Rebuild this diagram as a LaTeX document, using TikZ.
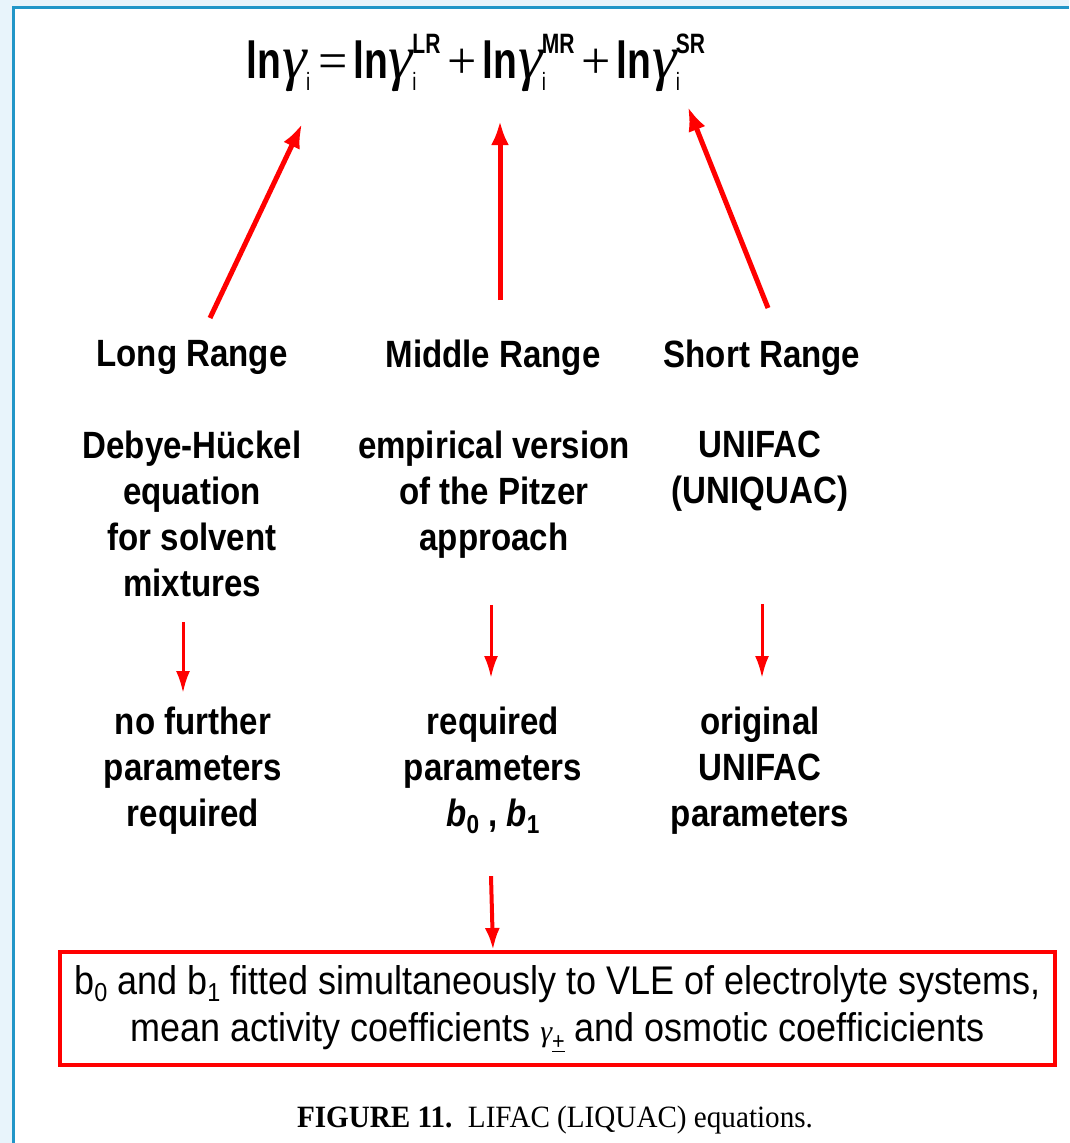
\documentclass[tikz,border=0pt]{standalone}
\usepackage{fontspec}
\setmainfont{Liberation Sans}
\newfontfamily\labfont{Liberation Sans}[FakeStretch=0.87]
\newfontfamily\boxfont{Liberation Sans}[FakeStretch=0.9]
\newfontfamily\eqfont{Liberation Sans}[FakeStretch=0.75]
\newfontfamily\grfont{Liberation Serif}
\newfontfamily\capfont{Liberation Serif}[FakeStretch=0.94]
\usetikzlibrary{arrows.meta,positioning}
\definecolor{framebl}{RGB}{33,150,200}
\definecolor{pagebl}{RGB}{232,244,251}
% one term ln gamma_i^{#1}
\newcommand{\lng}[1]{{\eqfont\bfseries ln}\kern1pt{\grfont\itshape\fontsize{62}{62}\selectfont γ}\kern-1pt%
  \rlap{\raisebox{-12pt}{\eqfont\fontsize{25}{25}\selectfont i}}%
  \raisebox{25pt}{\eqfont\bfseries\fontsize{28}{28}\selectfont #1}}
\newcommand{\bsub}[1]{{\itshape b}\raisebox{-7pt}{\fontsize{26}{26}\selectfont\upshape #1}}

\begin{document}
\begin{tikzpicture}[x=1pt,y=-1pt,
  lab/.style={font=\labfont\bfseries\fontsize{38}{46}\selectfont, align=center, inner sep=0pt},
  bigarr/.style={red, line width=5pt, -{Latex[length=24pt,width=18pt]}},
  smallarr/.style={red, line width=3pt, -{Latex[length=22pt,width=14pt]}}]
\useasboundingbox (0,0) rectangle (1069,1143);
% frame of the page
\fill[pagebl] (0,0) rectangle (1069,1143);
\fill[white] (14,9) rectangle (1069,1143);
\draw[framebl, line width=3pt] (13,1143)--(13,7)--(1069,7);
% the equation
\node[inner sep=0pt, anchor=base, font=\fontsize{52}{60}\selectfont] (eq) at (476,78)
  {\lng{}\hspace{12pt}{\grfont =}\hspace{6pt}\lng{LR}\hspace{7pt}{\grfont +}\hspace{6pt}\lng{MR}\hspace{7pt}{\grfont +}\hspace{6pt}\lng{SR}};
\coordinate (lrtip) at (302,124);
\coordinate (mrtip) at (500,121);
\coordinate (srtip) at (688,107);
% ranges
\node[lab, anchor=north] (lr) at (192,340) {Long Range};
\node[lab, anchor=north] (mr) at (493,340) {Middle Range};
\node[lab, anchor=north] (sr) at (762,340) {Short Range};
\draw[bigarr] ([xshift=18pt,yshift=22pt]lr.north) -- (lrtip);
\draw[bigarr] ([xshift=7pt,yshift=40pt]mr.north) -- (mrtip);
\draw[bigarr] ([xshift=6pt,yshift=32pt]sr.north) -- (srtip);
% models
\node[lab, anchor=north] (dh) at (192,431) {Debye-Hückel\\equation\\for solvent\\mixtures};
\node[lab, anchor=north] (pitz) at (494,431) {empirical version\\of the Pitzer\\approach};
\node[lab, anchor=north] (unif) at (760,431) {UNIFAC\\(UNIQUAC)};
% parameters
\node[lab, anchor=north] (nopar) at (193,707) {no further\\parameters\\required};
\node[lab, anchor=north] (bpar) at (493,707) {required\\parameters\\\bsub{0} , \bsub{1}};
\node[lab, anchor=north] (upar) at (760,707) {original\\UNIFAC\\parameters};
\draw[smallarr] ([xshift=-9pt,yshift=-25pt]dh.south) -- ([xshift=-10pt,yshift=14pt]nopar.north);
\draw[smallarr] ([xshift=-3pt,yshift=-46pt]pitz.south) -- ([xshift=-2pt,yshift=29pt]bpar.north);
\draw[smallarr] ([xshift=2pt,yshift=-92pt]unif.south) -- ([xshift=2pt,yshift=29pt]upar.north);
% fitting
\node[draw=red, line width=4pt, minimum width=995pt, minimum height=113pt, inner sep=0pt,
  align=center, font=\boxfont\fontsize{40}{47}\selectfont] (fitbox) at (557.5,1008.5)
  {b\raisebox{-7pt}{\fontsize{26}{26}\selectfont 0} and b\raisebox{-7pt}{\fontsize{26}{26}\selectfont 1} fitted simultaneously to VLE of electrolyte systems,\\
   mean activity coefficients {\grfont\itshape\fontsize{30}{30}\selectfont γ}\raisebox{-8pt}{\fontsize{24}{24}\selectfont\underline{+}} and osmotic coefficicients};
\draw[red, line width=4pt, -{Latex[length=22pt,width=15pt]}] ([xshift=-2pt,yshift=-42pt]bpar.south) -- (bpar.south |- fitbox.north);
% caption
\node[inner sep=0pt, font=\capfont\fontsize{31}{34}\selectfont] (cap) at (555,1120)
  {\textbf{FIGURE 11.}\enspace LIFAC (LIQUAC) equations.};
\end{tikzpicture}
\end{document}
